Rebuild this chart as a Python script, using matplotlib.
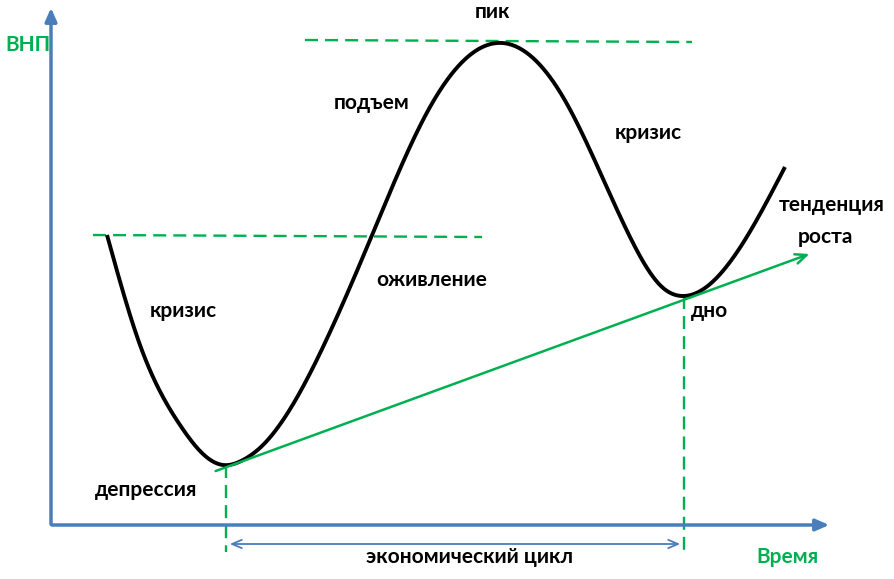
import numpy as np
import matplotlib
matplotlib.use('Agg')
import matplotlib.pyplot as plt

plt.rcParams['font.family'] = ['Lato', 'DejaVu Sans']

# кривая ВНП (координаты в пикселях картинки, y вниз)
curve_x = [107, 140, 180, 203, 223, 243, 263, 323, 370, 430, 497, 563, 630, 662, 682, 702, 743, 785]
curve_y = [235, 345, 425, 454, 465, 460, 445, 347, 240, 107, 43, 97, 237, 287, 296, 290, 243, 167]

trend_start = (213, 472)
trend_end = (812, 253)

peak_line_x = [305, 692]
peak_line_y = [40, 42]
mid_line_x = [93, 482]
mid_line_y = [235, 237]
cycle_x = [226, 684]
cycle_top_y = [465, 296]

labels = [
    ('пик', 492, 12), ('подъем', 372, 103), ('кризис', 648, 133),
    ('тенденция', 832, 205), ('роста', 825, 237), ('оживление', 432, 280),
    ('кризис', 183, 311), ('дно', 710, 311), ('депрессия', 146, 490),
    ('экономический цикл', 470, 557),
]

BLUE = '#4A7EBB'
GREEN = '#00B050'


def natural_spline(xs, ys, n=600):
    x = np.asarray(xs, float)
    y = np.asarray(ys, float)
    k = len(x)
    h = np.diff(x)
    A = np.zeros((k, k))
    r = np.zeros(k)
    A[0, 0] = A[-1, -1] = 1
    for i in range(1, k - 1):
        A[i, i - 1] = h[i - 1]
        A[i, i] = 2 * (h[i - 1] + h[i])
        A[i, i + 1] = h[i]
        r[i] = 6 * ((y[i + 1] - y[i]) / h[i] - (y[i] - y[i - 1]) / h[i - 1])
    m = np.linalg.solve(A, r)
    xx = np.linspace(x[0], x[-1], n)
    idx = np.clip(np.searchsorted(x, xx) - 1, 0, k - 2)
    t = xx - x[idx]
    hi = h[idx]
    a = (m[idx + 1] - m[idx]) / (6 * hi)
    b = m[idx] / 2
    c = (y[idx + 1] - y[idx]) / hi - hi * (2 * m[idx] + m[idx + 1]) / 6
    yy = y[idx] + c * t + b * t ** 2 + a * t ** 3
    return xx, yy


fig = plt.figure(figsize=(8.95, 5.79), dpi=100)
ax = fig.add_axes([0, 0, 1, 1])
ax.set_xlim(0, 895)
ax.set_ylim(579, 0)
ax.axis('off')

# оси
ax.annotate('', xy=(51, 5), xytext=(51, 527),
            arrowprops=dict(arrowstyle='-|>,head_width=0.35,head_length=0.8', color=BLUE, lw=2.5))
ax.annotate('', xy=(832, 525), xytext=(49, 525),
            arrowprops=dict(arrowstyle='-|>,head_width=0.35,head_length=0.8', color=BLUE, lw=2.5))

# пунктирные линии
dash = dict(color=GREEN, lw=1.7, dashes=(5.5, 3))
ax.plot(peak_line_x, peak_line_y, **dash)
ax.plot(mid_line_x, mid_line_y, **dash)
for x, y in zip(cycle_x, cycle_top_y):
    ax.plot([x, x], [y, 552], **dash)

# тенденция роста
ax.annotate('', xy=trend_end, xytext=trend_start,
            arrowprops=dict(arrowstyle='->,head_width=0.35,head_length=0.8', color=GREEN, lw=1.8))

# кривая
cx, cy = natural_spline(curve_x, curve_y)
ax.plot(cx, cy, color='black', lw=2.8, solid_capstyle='butt')

# экономический цикл
ax.annotate('', xy=(cycle_x[1] - 1, 544), xytext=(cycle_x[0] + 1, 544),
            arrowprops=dict(arrowstyle='<->,head_width=0.3,head_length=0.7', color=BLUE, lw=1.3))

for txt, x, y in labels:
    ax.text(x, y, txt, ha='center', va='center', fontsize=15, fontweight='bold', color='black')
ax.text(28, 45, 'ВНП', ha='center', va='center', fontsize=15, fontweight='bold', color=GREEN)
ax.text(787, 557, 'Время', ha='center', va='center', fontsize=15, fontweight='bold', color=GREEN)

fig.savefig('out.png', dpi=100)
